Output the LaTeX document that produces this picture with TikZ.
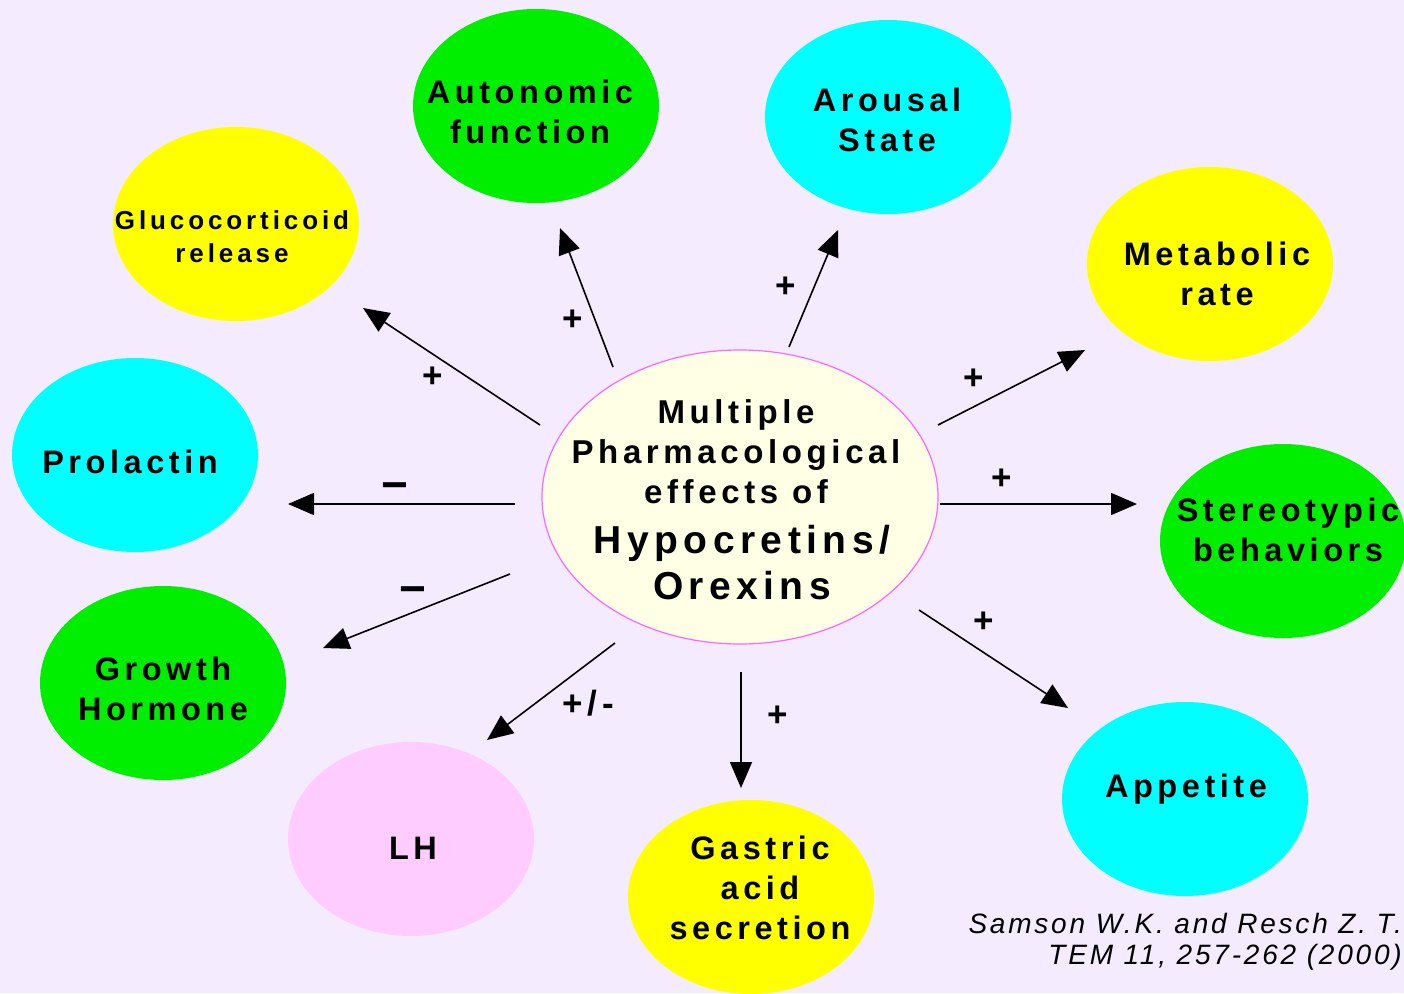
\documentclass[tikz,border=0pt]{standalone}
\usepackage{fontspec}
\setmainfont{Liberation Sans}
\newfontfamily\bubblefont[LetterSpace=14]{Liberation Sans}
\newfontfamily\glucofont[LetterSpace=15]{Liberation Sans}
\newfontfamily\citefont[LetterSpace=10]{Liberation Sans}
\usetikzlibrary{shapes.geometric,arrows.meta}
\definecolor{bg}{HTML}{F5EBFE}
\definecolor{bgreen}{HTML}{00EE00}
\definecolor{bcyan}{HTML}{00FFFF}
\definecolor{byellow}{HTML}{FFFF00}
\definecolor{bpink}{HTML}{FFCCFF}
\definecolor{cfill}{HTML}{FFFFE6}
\definecolor{cborder}{HTML}{FF66FF}
\tikzset{
  bubble/.style={ellipse, minimum width=246pt, minimum height=194pt, inner sep=0pt, draw=none},
  lbl/.style={font=\bubblefont\bfseries\fontsize{32.5}{40}\selectfont, align=center, inner sep=0pt},
  centerlbl/.style={font=\bubblefont\bfseries\fontsize{33}{40}\selectfont, align=center, inner sep=0pt},
  smalllbl/.style={font=\glucofont\bfseries\fontsize{26}{33}\selectfont, align=center, inner sep=0pt},
  biglbl/.style={font=\bubblefont\bfseries\fontsize{39}{46}\selectfont, align=center, inner sep=0pt},
  sign/.style={font=\bubblefont\bfseries\fontsize{35}{35}\selectfont, inner sep=0pt},
  minus/.style={font=\bfseries\fontsize{46}{46}\selectfont, inner sep=0pt},
  arr/.style={line width=1.6pt, -{Triangle[length=26pt,width=22pt]}},
}
\begin{document}
\begin{tikzpicture}[x=1pt,y=-1pt]
\fill[bg] (0,0) rectangle (1404,993);
\useasboundingbox (0,0) rectangle (1404,993);

% center
\node[ellipse, minimum width=396pt, minimum height=294pt, fill=cfill, draw=cborder, line width=1.2pt] (center) at (740,497) {};
\node[centerlbl] (centert1) at (736,452) {Multiple\\Pharmacological\\effects of};
\node[biglbl] (centert2) at (742,563) {Hypocretins/\\Orexins};

% bubbles
\node[bubble, fill=bgreen] (auto) at (536,106) {};
\node[lbl] (autot) at (530,112) {Autonomic\\function};
\node[bubble, fill=bcyan] (arous) at (888,117) {};
\node[lbl] (aroust) at (887,120) {Arousal\\State};
\node[bubble, fill=byellow] (gluco) at (236,224) {};
\node[smalllbl] (glucot) at (232,237) {Glucocorticoid\\release};
\node[bubble, fill=byellow] (metab) at (1210,264) {};
\node[lbl] (metabt) at (1217,274) {Metabolic\\rate};
\node[bubble, fill=bcyan] (prol) at (135,455) {};
\node[lbl] (prolt) at (130,462) {Prolactin};
\node[bubble, fill=bgreen] (stereo) at (1283,541) {};
\node[lbl] (stereot) at (1288,530) {Stereotypic\\behaviors};
\node[bubble, fill=bgreen] (growth) at (163,683) {};
\node[lbl] (growtht) at (163,689) {Growth\\Hormone};
\node[bubble, fill=bpink] (lh) at (411,839) {};
\node[lbl] (lht) at (413,848) {LH};
\node[bubble, fill=byellow] (gastric) at (751,897) {};
\node[lbl] (gastrict) at (760,888) {Gastric\\acid\\secretion};
\node[bubble, fill=bcyan] (appetite) at (1185,799) {};
\node[lbl] (appetitet) at (1186,789) {Appetite};

% arrow end points
\coordinate (s1) at (540,425); \coordinate (e1) at (363,308);
\coordinate (s2) at (613,367); \coordinate (e2) at (560,228);
\coordinate (s3) at (789,347); \coordinate (e3) at (838,230);
\coordinate (s4) at (938,425); \coordinate (e4) at (1085,350);
\coordinate (s5) at (515,504); \coordinate (e5) at (288,504);
\coordinate (s6) at (940,504); \coordinate (e6) at (1137,504);
\coordinate (s7) at (510,574); \coordinate (e7) at (323,648);
\coordinate (s8) at (615,643); \coordinate (e8) at (487,740);
\coordinate (s9) at (741,672); \coordinate (e9) at (741,788);
\coordinate (s10) at (919,610); \coordinate (e10) at (1068,708);
\foreach \i in {1,...,10} { \draw[arr] (s\i) -- (e\i); }

% signs
\node[sign] (p1) at (433,377) {+};
\node[sign] (p2) at (573,320) {+};
\node[sign] (p3) at (786,287) {+};
\node[sign] (p4) at (974,379) {+};
\node[sign] (p5) at (1002,479) {+};
\node[sign] (p6) at (984,622) {+};
\node[sign] (p7) at (778,716) {+};
\node[minus] (m1) at (395,492) {−};
\node[minus] (m2) at (413,596) {−};
\node[sign] (pm) at (588,703) {+/-};

% citation
\node[font=\citefont\itshape\fontsize{28}{31}\selectfont, align=right, anchor=east, inner sep=0pt] (cite) at (1402,942) {Samson W.K. and Resch Z. T.\\TEM 11, 257-262 (2000)};
\end{tikzpicture}
\end{document}
